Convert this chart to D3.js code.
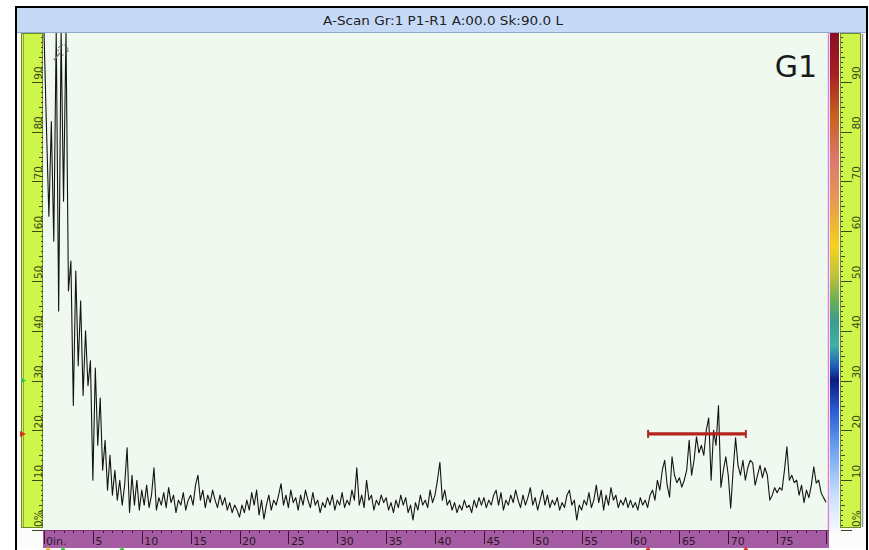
<!DOCTYPE html>
<html><head><meta charset="utf-8">
<script src="https://cdn.jsdelivr.net/npm/d3@7"></script>
<style>body{margin:0;background:#fff}svg{display:block}</style>
</head><body><svg id="c" width="869" height="550"></svg>
<script>
// ---------------- data ----------------
const titleText = "A-Scan Gr:1 P1-R1 A:00.0 Sk:90.0 L";
const groupLabel = "G1";
const sampleStep = 0.25;           // inches between samples, first sample at 0 in.
const amplitude = [
 100,81,63,82,58,100,44,100,66,100,48,54,25,52,33,46,27,40,29,34,
 10,32.5,17,26.5,12,18,8,15,7,12,6,10,5,9,16.5,3.5,11,5,10,4,
 8,5,9,4.5,7,12.5,4,6.5,5,7.5,4.5,8.5,5.5,7,3.5,6,5,7.5,4,6,
 7,5,9,11,6,8,4.5,7,5.5,8,6,4.5,7,5,6.5,4,5.5,3.5,5,4,
 2.6,5,3.5,6,4,7.5,5,8,3,6,2.2,5,7,4,6,5,7,9.3,5,7,
 4.5,8,5.5,6.5,4,7,5,8,6,4.5,7.5,5,6,3.5,5.5,4.5,6.5,5,7,4,
 6,5,7.5,4.5,6,5,8,6,12.5,5,7,4.5,10,6,7,4,6,5,7,5.5,
 6.5,4,5.5,3.5,6,4.5,7,5,6.5,3.5,5,2,5.5,4,7,5,6,4.5,8,5.5,
 7,10,13.6,6,8,5,6,4,5.5,3.5,5,4,6,4.5,5,3.5,6,4.5,6.5,5,
 6.5,4.5,6,5,7,8,5,7.5,4,6,5,7,5.5,8,6,4.5,7,5,6.5,8.5,
 5,6.5,4,6,8,5,7,4.5,6,5,6.5,4,5.5,4.5,7,8,5,6,2,5,
 4,6,5,7.5,4.5,6,9,5.5,8,4,7,5,8.5,6,7,4.5,6,5,6.5,4.5,
 6,4.5,5.5,4,6.5,5,6,4.5,7,8,6,10,8,12,14,9,6.6,14.7,11,9.5,
 10.5,8.6,10,12,18,11,14,18.7,15.5,17,15,20,22.5,10,20,17,25,8.6,12,14.7,
 11,4.4,12,18.5,13,11,14,10,12.5,14,13.5,9,11,13,10.5,12.5,11,6,7,8.5,
 7.5,8.5,8,12,16.7,10,11,9.5,10,7,9,5.5,8,6.5,9,12.7,9.4,10,7.5,6.5,5.6
];
const xDomain = [0, 80];
const xMajorTicks = [0,5,10,15,20,25,30,35,40,45,50,55,60,65,70,75];
const xMajorLabels = ["0in.","5","10","15","20","25","30","35","40","45","50","55","60","65","70","75"];
const yDomain = [0, 100];
const yMajorTicks = [0,10,20,30,40,50,60,70,80,90];
const yMajorLabels = ["0%","10","20","30","40","50","60","70","80","90"];
const gateStart = [61.8];
const gateEnd = [71.8];
const gateLevel = [19.3];
const paletteOffsets = [0,0.08,0.17,0.26,0.34,0.43,0.49,0.54,0.58,0.63,0.67,0.70,0.76,0.84,0.93,1];
const paletteColors = ["#8a0f1e","#a81d22","#c8621e","#dd7a6e","#e8994e","#f4d21a","#bcc43a","#6cae52","#3c9c8a","#3fb2a2","#2060b8","#0c1c84","#2a5ad4","#6ea4f0","#c6defc","#f2f8ff"];

// ---------------- layout ----------------
const svg = d3.select("#c");
const L = 44, R = 826, T = 32, B = 530;
const x = d3.scaleLinear().domain(xDomain).range([L, R]);
const y = d3.scaleLinear().domain(yDomain).range([B, T]);
const font = "'DejaVu Sans', Verdana, sans-serif";

svg.append("rect").attr("x",0).attr("y",0).attr("width",869).attr("height",550).attr("fill","#fff");
// outer frame
svg.append("rect").attr("x",16).attr("y",7).attr("width",851).attr("height",560)
  .attr("fill","#fbfbfb").attr("stroke","#000").attr("stroke-width",2);

// title bar
svg.append("rect").attr("x",17).attr("y",8).attr("width",849).attr("height",24).attr("fill","#c6daf8");
svg.append("line").attr("x1",17).attr("x2",866).attr("y1",32.5).attr("y2",32.5).attr("stroke","#93a9c9");
svg.append("text").attr("x",443).attr("y",24.5).attr("text-anchor","middle")
  .attr("font-family",font).attr("font-size",12).attr("fill","#222")
  .attr("textLength",240).attr("lengthAdjust","spacingAndGlyphs").text(titleText);

// plot background
svg.append("rect").attr("x",43).attr("y",33).attr("width",785).attr("height",497).attr("fill","#f0f9ef");
svg.append("line").attr("x1",828.5).attr("x2",828.5).attr("y1",33).attr("y2",530).attr("stroke","#d583d8").attr("stroke-width",1.5);

// ---------- left ruler ----------
const lr = svg.append("g");
lr.append("rect").attr("x",21.5).attr("y",33.5).attr("width",21).attr("height",494)
  .attr("fill","#cdf54a").attr("stroke","#6f8a2a").attr("stroke-width",1);
lr.append("line").attr("x1",23.5).attr("x2",23.5).attr("y1",34).attr("y2",527).attr("stroke","#8aa640").attr("stroke-width",1);
d3.range(0,100,1).forEach(v=>{
  const len = v%10===0 ? 11 : (v%5===0 ? 4 : 2);
  lr.append("line").attr("x1",43-len).attr("x2",43).attr("y1",Math.round(y(v))+0.5).attr("y2",Math.round(y(v))+0.5)
    .attr("stroke","#3b4a10").attr("stroke-width",1);
});
yMajorTicks.forEach((v,i)=>{
  const yy = y(v) - 2;
  lr.append("text").attr("transform",`translate(41.5,${v===0?yy-1:yy}) rotate(-90)`)
    .attr("font-family",font).attr("font-size",10.5).attr("fill","#3b4a10").text(yMajorLabels[i]);
});
// level markers
lr.append("path").attr("d",`M21,${y(30)-3} L26,${y(30)} L21,${y(30)+3} Z`).attr("fill","#3fc23f");
lr.append("path").attr("d",`M20,${y(gateLevel[0])-3} L26,${y(gateLevel[0])} L20,${y(gateLevel[0])+3} Z`).attr("fill","#e03020");

// ---------- right colour bar + ruler ----------
const grad = svg.append("defs").append("linearGradient").attr("id","pal")
  .attr("x1",0).attr("y1",0).attr("x2",0).attr("y2",1);
paletteOffsets.forEach((o,i)=>grad.append("stop").attr("offset",o).attr("stop-color",paletteColors[i]));
svg.append("rect").attr("x",830).attr("y",y(100)+1).attr("width",9).attr("height",y(0)-y(100)-2).attr("fill","url(#pal)");

const rr = svg.append("g");
rr.append("rect").attr("x",840.5).attr("y",33.5).attr("width",20).attr("height",494)
  .attr("fill","#cdf54a").attr("stroke","#6f8a2a").attr("stroke-width",1);
rr.append("line").attr("x1",862.5).attr("x2",862.5).attr("y1",34).attr("y2",527).attr("stroke","#9a9a9a").attr("stroke-width",1.5);
d3.range(0,100,1).forEach(v=>{
  const len = v%10===0 ? 11 : (v%5===0 ? 4 : 2);
  rr.append("line").attr("x1",841).attr("x2",841+len).attr("y1",Math.round(y(v))+0.5).attr("y2",Math.round(y(v))+0.5)
    .attr("stroke","#3b4a10").attr("stroke-width",1);
});
yMajorTicks.forEach((v,i)=>{
  const yy = y(v) - 2;
  rr.append("text").attr("transform",`translate(859.5,${v===0?yy-1:yy}) rotate(-90)`)
    .attr("font-family",font).attr("font-size",10.5).attr("fill","#3b4a10").text(yMajorLabels[i]);
});

// ---------- x axis bar ----------
const xa = svg.append("g");
xa.append("rect").attr("x",43).attr("y",530).attr("width",786).attr("height",18).attr("fill","#a65ca2");
xa.append("line").attr("x1",43).attr("x2",829).attr("y1",530.5).attr("y2",530.5).attr("stroke","#7a3576");
d3.range(0,81,1).forEach(v=>{
  const major = v%5===0;
  xa.append("line").attr("x1",Math.round(x(v))+0.5).attr("x2",Math.round(x(v))+0.5)
    .attr("y1",531).attr("y2",major?544:533).attr("stroke","#3a1438").attr("stroke-width",1);
});
xMajorTicks.forEach((v,i)=>{
  xa.append("text").attr("x",x(v)+(v===0?2:2.5)).attr("y",544.5)
    .attr("font-family",font).attr("font-size",11).attr("fill","#2a1a2a").text(xMajorLabels[i]);
});
svg.append("rect").attr("x",17).attr("y",548).attr("width",849).attr("height",2).attr("fill","#fff");
[[x(gateStart[0]),"#e03020"],[x(gateEnd[0]),"#e03020"],[63,"#3fc23f"],[122,"#3fc23f"],[48,"#e0c020"]].forEach(d=>{
  svg.append("path").attr("d",`M${d[0]-2.5},550 L${d[0]},546.5 L${d[0]+2.5},550 Z`).attr("fill",d[1]);
});

// ---------- signal ----------
svg.append("clipPath").attr("id","clip").append("rect").attr("x",43).attr("y",33).attr("width",785).attr("height",497);
const pts = amplitude.map((a,i)=>[i*sampleStep, a]);
svg.append("path").datum(pts).attr("clip-path","url(#clip)")
  .attr("d", d3.line().x(d=>x(d[0])).y(d=>y(d[1])))
  .attr("fill","none").attr("stroke","#141414").attr("stroke-width",1.1).attr("stroke-linejoin","round");

// cursor icon near the initial pulse
svg.append("circle").attr("cx",63).attr("cy",50).attr("r",5).attr("fill","none")
  .attr("stroke","#555").attr("stroke-dasharray","2,1.5");
svg.append("line").attr("x1",59).attr("y1",54).attr("x2",54).attr("y2",60).attr("stroke","#777").attr("stroke-width",1.5);

// ---------- gate ----------
const g = svg.append("g").attr("stroke","#b3241e");
g.append("line").attr("x1",x(gateStart[0])).attr("x2",x(gateEnd[0])).attr("y1",y(gateLevel[0])).attr("y2",y(gateLevel[0])).attr("stroke-width",3.2);
[gateStart[0],gateEnd[0]].forEach(v=>g.append("line").attr("x1",x(v)).attr("x2",x(v))
  .attr("y1",y(gateLevel[0])-4).attr("y2",y(gateLevel[0])+4).attr("stroke-width",2));

// ---------- group label ----------
svg.append("text").attr("x",817).attr("y",76.5).attr("text-anchor","end")
  .attr("font-family",font).attr("font-size",30).attr("fill","#1a1a1a").text(groupLabel);
</script></body></html>
